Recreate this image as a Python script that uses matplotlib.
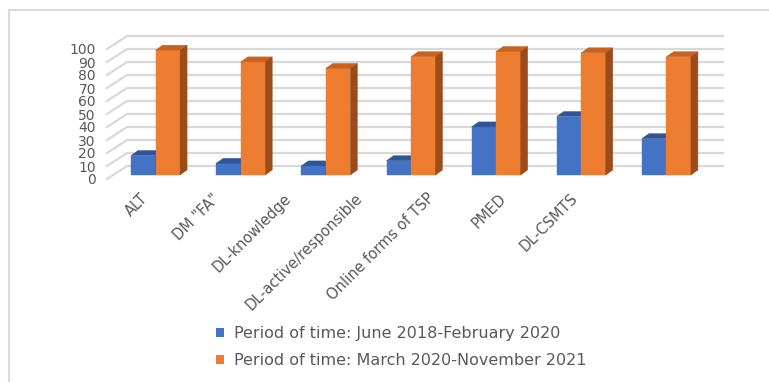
import matplotlib
matplotlib.use("Agg")
import matplotlib.pyplot as plt
from matplotlib.patches import Polygon, Patch
from matplotlib.lines import Line2D

categories = ["ALT", 'DM "FA"', "DL-knowledge", "DL-active/responsible",
              "Online forms of TSP", "PMED", "DL-CSMTS"]
before = [15, 9, 7, 11, 37, 45, 28]
after = [96, 87, 82, 91, 95, 94, 91]
series_names = ["Period of time: June 2018-February 2020",
                "Period of time: March 2020-November 2021"]
y_ticks = list(range(0, 101, 10))

W, H = 769, 382
TEXT = "#595959"
GRID = "#d9d9d9"
# front, top, side colours per series
COLS = [("#4472c4", "#2f5597", "#2e4f8a"),
        ("#ed7d31", "#c9621f", "#9c4b1b")]

plt.rcParams["font.family"] = ["DejaVu Sans"]
fig = plt.figure(figsize=(W / 100, H / 100), dpi=100)

# front plane of the pseudo-3D plot area (pixels from top-left)
left_px, right_px, zero_px, top_px = 107, 703, 179, 49
ax = fig.add_axes([left_px / W, (H - zero_px) / H,
                   (right_px - left_px) / W, (zero_px - top_px) / H])
n = len(categories)
ax.set_xlim(-0.5, n - 0.5)
ax.set_ylim(0, 100)
for s in ax.spines.values():
    s.set_visible(False)
ax.set_xticks([])
ax.set_yticks(y_ticks)
ax.tick_params(length=0, pad=8, labelsize=10, labelcolor=TEXT)
ax.set_facecolor("none")

sx = (right_px - left_px) / n      # px per category unit
sy = (zero_px - top_px) / 100.0    # px per value unit


def off(dx, dy):
    return dx / sx, dy / sy


# back wall offset, bar position offset, bar depth
wx, wy = off(20, 13)
bx, by = off(6, 4)
dx, dy = off(7, 5)
bw = 24.5 / sx

# gridlines: slanted on the side wall, then along the back wall
for v in y_ticks:
    ax.plot([-0.5, -0.5 + wx, n - 0.5 + wx], [v, v + wy, v + wy],
            color=GRID, lw=1.6, clip_on=False, zorder=0)


def bar3d(x0, h, cols):
    x1 = x0 + bw
    front = [(x0 + bx, by), (x1 + bx, by), (x1 + bx, h + by), (x0 + bx, h + by)]
    top = [(x0 + bx, h + by), (x1 + bx, h + by),
           (x1 + bx + dx, h + by + dy), (x0 + bx + dx, h + by + dy)]
    side = [(x1 + bx, by), (x1 + bx + dx, by + dy),
            (x1 + bx + dx, h + by + dy), (x1 + bx, h + by)]
    for pts, c in zip([front, top, side], cols):
        ax.add_patch(Polygon(pts, closed=True, facecolor=c, edgecolor=c,
                             lw=0.3, clip_on=False, zorder=2))


for i in range(n):
    bar3d(i - bw, before[i], COLS[0])
    bar3d(i, after[i], COLS[1])

# rotated category labels (Excel squeezes them a bit towards the left)
for i, lab in enumerate(categories):
    x_px = 145 + 71.7 * i
    ax.text(-0.5 + (x_px - left_px) / sx, -(196 - zero_px) / sy, lab,
            rotation=45, rotation_mode="anchor", ha="right", va="center",
            fontsize=10.5, color=TEXT, clip_on=False)

handles = [Patch(facecolor=COLS[0][0]), Patch(facecolor=COLS[1][0])]
fig.legend(handles, series_names, loc="upper left",
           bbox_to_anchor=(208 / W, 1 - 318 / H), bbox_transform=fig.transFigure,
           frameon=False, fontsize=11.5, labelcolor=TEXT, handlelength=0.5,
           handleheight=0.5, handletextpad=0.6, labelspacing=0.75, borderpad=0)

# chart border (top and left visible in the crop)
fig.add_artist(Line2D([9 / W, 1], [1 - 10 / H, 1 - 10 / H], color=GRID, lw=1.5))
fig.add_artist(Line2D([9 / W, 9 / W], [0, 1 - 10 / H], color=GRID, lw=1.5))

fig.savefig("out.png", dpi=100)
